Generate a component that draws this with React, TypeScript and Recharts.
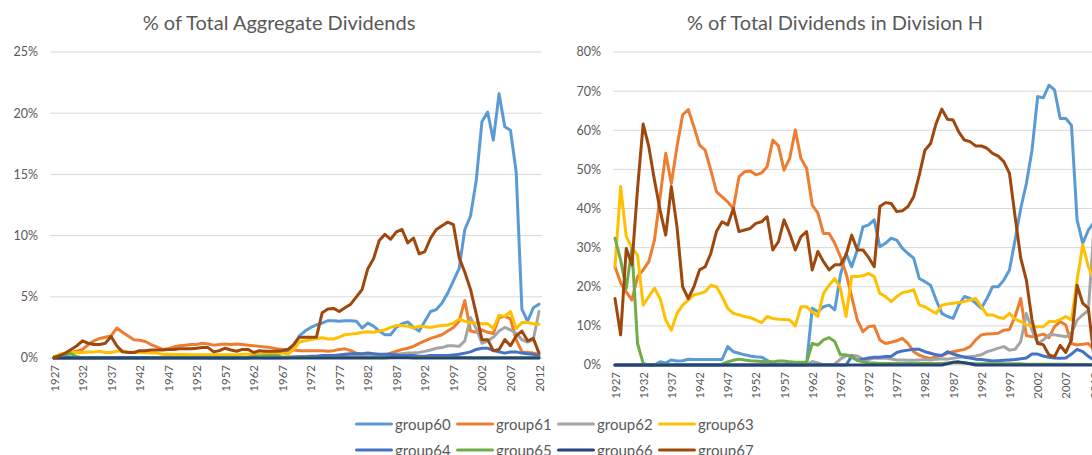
import React from 'react';
import { LineChart, Line, XAxis, YAxis, CartesianGrid } from 'recharts';

const FONT = 'Lato, "Open Sans", sans-serif';
const TEXT = '#595959';

const years = [
  1927, 1928, 1929,
  1930, 1931, 1932, 1933, 1934, 1935, 1936, 1937, 1938, 1939,
  1940, 1941, 1942, 1943, 1944, 1945, 1946, 1947, 1948, 1949,
  1950, 1951, 1952, 1953, 1954, 1955, 1956, 1957, 1958, 1959,
  1960, 1961, 1962, 1963, 1964, 1965, 1966, 1967, 1968, 1969,
  1970, 1971, 1972, 1973, 1974, 1975, 1976, 1977, 1978, 1979,
  1980, 1981, 1982, 1983, 1984, 1985, 1986, 1987, 1988, 1989,
  1990, 1991, 1992, 1993, 1994, 1995, 1996, 1997, 1998, 1999,
  2000, 2001, 2002, 2003, 2004, 2005, 2006, 2007, 2008, 2009,
  2010, 2011, 2012,
];

const tickYears = [1927, 1932, 1937, 1942, 1947, 1952, 1957, 1962, 1967, 1972, 1977, 1982, 1987, 1992, 1997, 2002, 2007, 2012];
const leftYTicks = [0, 5, 10, 15, 20, 25];
const rightYTicks = [0, 10, 20, 30, 40, 50, 60, 70, 80];

const seriesNames = ['group60', 'group61', 'group62', 'group63', 'group64', 'group65', 'group66', 'group67'];
const seriesColors = ['#5B9BD5', '#ED7D31', '#A5A5A5', '#FFC000', '#4472C4', '#70AD47', '#264478', '#9E480E'];

// ---- Left panel: % of Total Aggregate Dividends ----
const left60 = [
  0, 0, 0,
  0, 0, 0, 0, 0, 0.02, 0.02, 0.03, 0.03, 0.03,
  0.04, 0.04, 0.04, 0.04, 0.04, 0.04, 0.04, 0.12, 0.09, 0.08,
  0.07, 0.06, 0.06, 0.06, 0.03, 0.01, 0.01, 0.01, 0.01, 0.01,
  0.01, 0.01, 0.35, 0.32, 0.33, 0.34, 0.33, 0.45, 0.6, 1.0,
  1.8, 2.2, 2.5, 2.7, 2.85, 3.05, 3.05, 3.0, 3.05, 3.05,
  3.0, 2.45, 2.85, 2.6, 2.2, 1.9, 1.9, 2.5, 2.8, 2.95,
  2.5, 2.2, 3.0, 3.8, 3.95, 4.5, 5.3, 6.3, 7.3, 10.5,
  11.6, 14.5, 19.3, 20.1, 17.8, 21.6, 18.9, 18.6, 15.2, 4.0,
  3.0, 4.1, 4.4,
];
const left61 = [
  0, 0.15, 0.35,
  0.45, 0.55, 0.7, 1.1, 1.4, 1.6, 1.7, 1.8, 2.45, 2.1,
  1.8, 1.5, 1.45, 1.35, 1.1, 0.9, 0.7, 0.75, 0.9, 1.0,
  1.05, 1.1, 1.1, 1.2, 1.15, 1.05, 1.1, 1.15, 1.1, 1.15,
  1.1, 1.05, 1.0, 0.95, 0.9, 0.85, 0.75, 0.7, 0.7, 0.65,
  0.6, 0.6, 0.6, 0.6, 0.6, 0.55, 0.6, 0.7, 0.75, 0.6,
  0.4, 0.3, 0.25, 0.2, 0.2, 0.25, 0.4, 0.55, 0.7, 0.8,
  0.95, 1.2, 1.4, 1.6, 1.75, 1.9, 2.2, 2.5, 3.0, 4.7,
  2.2, 2.1, 2.3, 2.1, 2.0, 3.3, 3.4, 3.2, 1.5, 0.5,
  0.45, 0.4, 0.3,
];
const left62 = [
  0.02, 0.02, 0.02,
  0.02, 0.02, 0.02, 0.02, 0.02, 0.02, 0.02, 0.02, 0.02, 0.02,
  0.02, 0.02, 0.02, 0.02, 0.02, 0.02, 0.02, 0.02, 0.02, 0.02,
  0.02, 0.02, 0.02, 0.02, 0.02, 0.02, 0.02, 0.02, 0.02, 0.02,
  0.02, 0.02, 0.05, 0.04, 0.03, 0.03, 0.03, 0.05, 0.08, 0.1,
  0.1, 0.08, 0.1, 0.12, 0.15, 0.15, 0.15, 0.15, 0.15, 0.17,
  0.2, 0.2, 0.22, 0.22, 0.22, 0.24, 0.27, 0.3, 0.35, 0.4,
  0.42, 0.46, 0.54, 0.65, 0.8, 0.85, 1.0, 1.0, 0.95, 1.4,
  3.3, 2.4, 1.2, 1.4, 1.7, 2.2, 2.5, 2.3, 2.0, 1.5,
  1.3, 1.5, 3.8,
];
const left63 = [
  0.1, 0.3, 0.4,
  0.45, 0.45, 0.45, 0.5, 0.5, 0.55, 0.45, 0.45, 0.55, 0.6,
  0.5, 0.45, 0.45, 0.45, 0.4, 0.4, 0.3, 0.3, 0.28, 0.28,
  0.28, 0.27, 0.27, 0.26, 0.27, 0.27, 0.27, 0.27, 0.26, 0.25,
  0.3, 0.3, 0.28, 0.27, 0.35, 0.4, 0.4, 0.4, 0.3, 0.7,
  1.3, 1.4, 1.5, 1.6, 1.65, 1.55, 1.55, 1.7, 1.9, 1.95,
  2.0, 2.1, 2.15, 2.1, 2.2, 2.3, 2.5, 2.65, 2.65, 2.6,
  2.45, 2.6, 2.55, 2.5, 2.6, 2.65, 2.7, 2.85, 3.2, 3.0,
  2.9, 2.85, 2.8, 2.8, 2.4, 3.5, 3.4, 3.8, 2.4, 2.9,
  2.9, 2.8, 2.75,
];
const left64 = [
  0.03, 0.03, 0.03,
  0.03, 0.03, 0.03, 0.03, 0.03, 0.03, 0.03, 0.03, 0.03, 0.03,
  0.03, 0.03, 0.03, 0.03, 0.03, 0.03, 0.03, 0.03, 0.03, 0.03,
  0.03, 0.03, 0.03, 0.03, 0.03, 0.03, 0.03, 0.03, 0.03, 0.03,
  0.03, 0.03, 0.03, 0.03, 0.03, 0.03, 0.03, 0.03, 0.03, 0.07,
  0.1, 0.1, 0.15, 0.15, 0.2, 0.2, 0.2, 0.25, 0.3, 0.35,
  0.35, 0.35, 0.4, 0.35, 0.3, 0.3, 0.3, 0.25, 0.2, 0.2,
  0.2, 0.15, 0.15, 0.2, 0.2, 0.2, 0.2, 0.25, 0.3, 0.4,
  0.5, 0.7, 0.8, 0.8, 0.6, 0.5, 0.4, 0.5, 0.5, 0.4,
  0.35, 0.3, 0.15,
];
const left65 = [
  0.1, 0.15, 0.25,
  0.35, 0.1, 0.02, 0, 0, 0, 0, 0, 0, 0,
  0, 0, 0, 0, 0, 0, 0.01, 0.03, 0.03, 0.04,
  0.03, 0.03, 0.03, 0.03, 0.03, 0.03, 0.03, 0.03, 0.03, 0.03,
  0.03, 0.03, 0.15, 0.15, 0.18, 0.2, 0.17, 0.08, 0.07, 0.06,
  0.04, 0.04, 0.04, 0.04, 0.04, 0.04, 0.04, 0.04, 0.04, 0.04,
  0.04, 0.04, 0.04, 0.04, 0.04, 0.04, 0.04, 0.04, 0.04, 0.04,
  0.04, 0.04, 0.04, 0.04, 0.04, 0.04, 0.04, 0.04, 0.04, 0.04,
  0.03, 0.03, 0.03, 0.03, 0.03, 0.03, 0.03, 0.03, 0.03, 0.03,
  0.03, 0.03, 0.03,
];
const left66 = [
  0.01, 0.01, 0.01,
  0.01, 0.01, 0.01, 0.01, 0.01, 0.01, 0.01, 0.01, 0.01, 0.01,
  0.01, 0.01, 0.01, 0.01, 0.01, 0.01, 0.01, 0.01, 0.01, 0.01,
  0.01, 0.01, 0.01, 0.01, 0.01, 0.01, 0.01, 0.01, 0.01, 0.01,
  0.01, 0.01, 0.01, 0.01, 0.01, 0.01, 0.01, 0.01, 0.01, 0.01,
  0.01, 0.01, 0.01, 0.01, 0.01, 0.01, 0.01, 0.01, 0.01, 0.01,
  0.01, 0.01, 0.01, 0.01, 0.01, 0.01, 0.02, 0.03, 0.03, 0.02,
  0.01, 0.01, 0.01, 0.01, 0.01, 0.01, 0.01, 0.01, 0.01, 0.01,
  0.01, 0.01, 0.01, 0.01, 0.01, 0.01, 0.01, 0.01, 0.01, 0.01,
  0.01, 0.01, 0.01,
];
const left67 = [
  0, 0.2, 0.4,
  0.7, 1.0, 1.4, 1.2, 1.1, 1.1, 1.2, 1.75, 1.0, 0.5,
  0.45, 0.45, 0.6, 0.6, 0.65, 0.65, 0.65, 0.7, 0.7, 0.75,
  0.75, 0.75, 0.8, 0.85, 0.85, 0.5, 0.6, 0.8, 0.65, 0.55,
  0.7, 0.7, 0.45, 0.6, 0.55, 0.55, 0.55, 0.6, 0.7, 1.1,
  1.7, 1.7, 1.7, 1.7, 3.7, 4.0, 4.05, 3.8, 4.1, 4.4,
  5.0, 5.6, 7.3, 8.1, 9.6, 10.1, 9.7, 10.3, 10.5, 9.4,
  9.8, 8.5, 8.7, 9.8, 10.5, 10.8, 11.1, 10.9, 8.2, 7.0,
  5.6, 3.6, 1.5, 1.5, 0.6, 0.7, 1.5, 1.0, 1.8, 2.2,
  1.4, 1.6, 0.4,
];

// ---- Right panel: % of Total Dividends in Division H ----
const right60 = [
  0, 0, 0,
  0, 0, 0, 0, 0, 0.85, 0.5, 1.3, 1.0, 1.1,
  1.45, 1.4, 1.4, 1.4, 1.4, 1.4, 1.4, 4.7, 3.4, 3.0,
  2.6, 2.3, 2.1, 2.0, 1.2, 0.3, 0.2, 0.2, 0.2, 0.2,
  0.2, 0.3, 14.5, 13.6, 14.9, 15.3, 14.1, 23.0, 28.5, 25.1,
  29.4, 35.3, 35.8, 37.1, 30.2, 31.1, 32.4, 31.9, 29.8, 28.5,
  27.3, 22.1, 21.3, 20.4, 16.6, 13.2, 12.4, 11.9, 15.3, 17.5,
  17.0, 15.8, 14.5, 17.0, 20.0, 20.0, 21.7, 24.3, 32.0, 40.0,
  46.4, 54.9, 68.6, 68.3, 71.5, 70.3, 63.0, 63.0, 61.3, 37.1,
  31.1, 34.5, 36.5,
];
const right61 = [
  25.1, 21.0, 18.7,
  16.6, 22.6, 24.3, 26.4, 31.9, 43.0, 54.1, 46.4, 55.8, 63.9,
  65.3, 60.9, 56.2, 54.9, 49.8, 44.3, 43.0, 41.7, 40.0, 48.1,
  49.4, 49.6, 48.6, 49.1, 50.7, 57.5, 56.0, 49.8, 52.8, 60.1,
  52.8, 50.3, 40.9, 38.8, 33.6, 33.6, 31.1, 27.7, 23.4, 17.5,
  11.5, 8.5, 9.8, 10.0, 6.4, 5.5, 5.8, 6.2, 6.8, 5.5,
  3.4, 2.5, 2.0, 1.7, 2.1, 2.5, 3.0, 3.4, 3.7, 4.0,
  4.7, 6.4, 7.7, 7.9, 8.0, 8.1, 8.9, 9.1, 12.4, 17.0,
  7.5, 7.2, 7.5, 7.9, 7.0, 9.8, 11.1, 10.2, 5.5, 5.1,
  5.3, 5.5, 4.0,
];
const right62 = [
  0, 0, 0,
  0, 0, 0, 0, 0, 0, 0, 0, 0, 0,
  0, 0, 0, 0, 0, 0, 0, 0, 0, 0,
  0, 0, 0, 0, 0, 0, 0, 0, 0, 0,
  0, 0, 0.9, 0.5, 0.1, 0.1, 0.2, 1.5, 2.4, 2.5,
  2.3, 1.5, 1.4, 1.8, 1.7, 1.8, 1.5, 1.3, 1.3, 1.2,
  1.2, 1.3, 1.4, 1.3, 1.5, 1.6, 1.5, 1.7, 2.0, 2.1,
  2.1, 2.3, 2.6, 3.4, 3.8, 4.3, 4.7, 3.8, 4.0, 6.0,
  13.2, 8.9, 5.5, 6.4, 7.7, 7.7, 7.5, 7.2, 8.1, 11.5,
  12.8, 14.0, 35.0,
];
const right63 = [
  25.1, 45.6, 32.8,
  30.0, 28.1, 15.3, 17.5, 19.6, 17.0, 11.5, 8.9, 13.2, 15.3,
  16.6, 17.9, 18.3, 18.7, 20.4, 20.0, 17.5, 14.5, 13.2, 12.8,
  12.4, 12.1, 11.5, 10.8, 12.4, 11.9, 11.7, 11.6, 11.5, 10.0,
  14.9, 14.9, 13.6, 12.4, 18.3, 20.4, 22.1, 19.6, 12.4, 22.6,
  22.6, 22.8, 23.4, 22.6, 18.3, 17.5, 16.2, 17.5, 18.5, 18.8,
  19.2, 15.3, 14.9, 14.0, 13.2, 15.3, 15.6, 15.8, 16.0, 16.2,
  16.6, 17.0, 14.9, 12.8, 12.8, 12.2, 11.9, 13.2, 11.7, 11.1,
  10.2, 10.0, 9.8, 9.8, 11.1, 11.1, 11.6, 12.4, 11.5, 21.7,
  30.7, 25.1, 22.0,
];
const right64 = [
  0, 0, 0,
  0, 0, 0, 0, 0, 0, 0, 0, 0, 0,
  0, 0, 0, 0, 0, 0, 0, 0, 0, 0,
  0, 0, 0, 0, 0, 0, 0, 0, 0, 0,
  0, 0, 0, 0, 0, 0, 0, 0, 0, 2.2,
  1.2, 1.5, 1.8, 2.0, 2.0, 2.2, 2.2, 3.2, 3.6, 3.8,
  4.0, 4.0, 3.4, 3.0, 2.6, 2.4, 3.4, 2.8, 2.4, 2.0,
  1.8, 1.5, 1.4, 1.2, 1.0, 1.1, 1.2, 1.3, 1.4, 1.6,
  1.8, 2.8, 2.8, 2.3, 2.0, 1.8, 1.7, 1.8, 2.8, 4.0,
  3.4, 2.2, 1.3,
];
const right65 = [
  32.4, 26.8, 19.6,
  29.8, 5.5, 0.4, 0, 0, 0, 0, 0, 0, 0,
  0, 0, 0, 0, 0, 0, 0.2, 0.8, 1.2, 1.5,
  1.3, 1.1, 1.0, 0.9, 0.9, 0.8, 1.0, 1.0, 0.8, 0.7,
  0.7, 0.7, 5.5, 5.1, 6.4, 7.0, 6.0, 2.6, 2.6, 2.0,
  1.2, 0.8, 0.6, 0.5, 0.4, 0.4, 0.4, 0.4, 0.4, 0.4,
  0.4, 0.4, 0.4, 0.4, 0.4, 0.4, 0.5, 0.6, 0.6, 0.5,
  0.4, 0.3, 0.3, 0.3, 0.3, 0.3, 0.3, 0.3, 0.3, 0.3,
  0.2, 0.2, 0.2, 0.2, 0.2, 0.2, 0.2, 0.2, 0.1, 0.1,
  0.1, 0.1, 0.1,
];
const right66 = [
  0, 0, 0,
  0, 0, 0, 0, 0, 0, 0, 0, 0, 0,
  0, 0, 0, 0, 0, 0, 0, 0, 0, 0,
  0, 0, 0, 0, 0, 0, 0, 0, 0, 0,
  0, 0, 0, 0, 0, 0, 0, 0, 0, 0,
  0, 0, 0, 0, 0, 0, 0, 0, 0, 0,
  0, 0, 0, 0, 0, 0, 0.3, 0.7, 0.8, 0.6,
  0.3, 0, 0, 0, 0, 0, 0, 0, 0, 0,
  0, 0, 0, 0, 0, 0, 0, 0, 0, 0,
  0, 0, 0,
];
const right67 = [
  17.0, 7.7, 29.8,
  25.6, 45.0, 61.6, 55.8, 47.3, 39.6, 33.2, 45.6, 35.3, 20.0,
  17.0, 20.0, 24.3, 25.1, 28.5, 34.1, 36.6, 35.8, 40.0, 34.1,
  34.5, 34.9, 36.2, 36.6, 37.9, 29.4, 31.5, 37.1, 33.6, 29.4,
  32.8, 34.1, 24.3, 29.0, 26.4, 24.3, 25.6, 25.6, 28.1, 33.2,
  29.4, 29.4, 27.5, 25.1, 40.5, 41.5, 41.3, 39.2, 39.4, 40.5,
  43.0, 48.6, 54.9, 56.6, 61.8, 65.4, 62.8, 62.6, 59.6, 57.5,
  57.1, 56.0, 56.0, 55.4, 54.1, 53.4, 52.0, 49.0, 37.9, 27.3,
  21.7, 11.5, 5.5, 5.2, 2.6, 2.1, 5.0, 3.2, 6.4, 20.4,
  15.8, 14.5, 2.0,
];

const leftSeries = [left60, left61, left62, left63, left64, left65, left66, left67];
const rightSeries = [right60, right61, right62, right63, right64, right65, right66, right67];

const buildRows = (series: number[][]) =>
  years.map((year, i) => {
    const row: Record<string, number> = { year };
    seriesNames.forEach((name, s) => {
      row[name] = series[s][i];
    });
    return row;
  });

const leftData = buildRows(leftSeries);
const rightData = buildRows(rightSeries);

const XTick = (props: any) => {
  const { x, y, payload, fontSize } = props;
  return (
    <text
      x={x}
      y={y}
      transform={`rotate(-90 ${x} ${y})`}
      textAnchor="end"
      dominantBaseline="central"
      fill={TEXT}
      fontSize={fontSize}
      fontFamily={FONT}
    >
      {payload.value}
    </text>
  );
};

const renderLines = () =>
  seriesNames.map((name, i) => (
    <Line
      key={name}
      type="linear"
      dataKey={name}
      stroke={seriesColors[i]}
      strokeWidth={3}
      strokeLinejoin="round"
      strokeLinecap="round"
      dot={false}
      activeDot={false}
      isAnimationActive={false}
    />
  ));

const Title = ({ text, cx, cy }: { text: string; cx: number; cy: number }) => (
  <div
    style={{
      position: 'absolute',
      left: cx - 250,
      width: 500,
      top: cy - 13,
      height: 26,
      lineHeight: '26px',
      textAlign: 'center',
      fontSize: 20,
      color: TEXT,
      fontFamily: FONT,
      whiteSpace: 'nowrap',
    }}
  >
    {text}
  </div>
);

const Legend = () => (
  <>
    {seriesNames.map((name, i) => {
      const row = Math.floor(i / 4);
      const col = i % 4;
      const left = 355 + col * 101;
      const cy = 424 + row * 26;
      return (
        <div
          key={name}
          style={{
            position: 'absolute',
            left,
            top: cy - 10,
            height: 20,
            display: 'flex',
            alignItems: 'center',
            whiteSpace: 'nowrap',
          }}
        >
          <svg width={38} height={20} style={{ display: 'block' }}>
            <line x1={1.5} y1={10} x2={36.5} y2={10} stroke={seriesColors[i]} strokeWidth={3} strokeLinecap="round" />
          </svg>
          <span style={{ marginLeft: 2, fontSize: 15, color: TEXT, fontFamily: FONT, lineHeight: '20px' }}>{name}</span>
        </div>
      );
    })}
  </>
);

export default function App() {
  return (
    <div
      style={{
        position: 'absolute',
        left: 0,
        top: 0,
        width: 1092,
        height: 455,
        overflow: 'hidden',
        background: '#ffffff',
        fontFamily: FONT,
      }}
    >
      <Title text="% of Total Aggregate Dividends" cx={279} cy={22} />
      <Title text="% of Total Dividends in Division H" cx={835} cy={22} />

      <div style={{ position: 'absolute', left: 0, top: 0 }}>
        <LineChart width={560} height={400} data={leftData} margin={{ top: 52, right: 18, left: 0, bottom: 2 }}>
          <CartesianGrid vertical={false} stroke="#D9D9D9" strokeWidth={1} />
          <XAxis
            dataKey="year"
            type="number"
            domain={[1927, 2012]}
            ticks={tickYears}
            interval={0}
            height={40}
            axisLine={false}
            tickLine={false}
            tickSize={0}
            tickMargin={7}
            padding={{ left: 4, right: 3 }}
            tick={(p: any) => <XTick {...p} fontSize={11.5} />}
          />
          <YAxis
            type="number"
            domain={[0, 25]}
            ticks={leftYTicks}
            interval={0}
            width={50}
            axisLine={false}
            tickLine={false}
            tickSize={0}
            tickMargin={12}
            tickFormatter={(v: number) => `${v}%`}
            tick={{ fill: TEXT, fontSize: 12.5, fontFamily: FONT }}
          />
          {renderLines()}
        </LineChart>
      </div>

      <div style={{ position: 'absolute', left: 560, top: 0 }}>
        <LineChart width={560} height={410} data={rightData} margin={{ top: 52, right: 24, left: 0, bottom: 5 }}>
          <CartesianGrid vertical={false} stroke="#D9D9D9" strokeWidth={1} />
          <XAxis
            dataKey="year"
            type="number"
            domain={[1927, 2012]}
            ticks={tickYears}
            interval={0}
            height={40}
            axisLine={false}
            tickLine={false}
            tickSize={0}
            tickMargin={7}
            padding={{ left: 2, right: 2 }}
            tick={(p: any) => <XTick {...p} fontSize={11.5} />}
          />
          <YAxis
            type="number"
            domain={[0, 80]}
            ticks={rightYTicks}
            interval={0}
            width={53}
            axisLine={false}
            tickLine={false}
            tickSize={0}
            tickMargin={12}
            tickFormatter={(v: number) => `${v}%`}
            tick={{ fill: TEXT, fontSize: 12.5, fontFamily: FONT }}
          />
          {renderLines()}
        </LineChart>
      </div>

      <Legend />
    </div>
  );
}
